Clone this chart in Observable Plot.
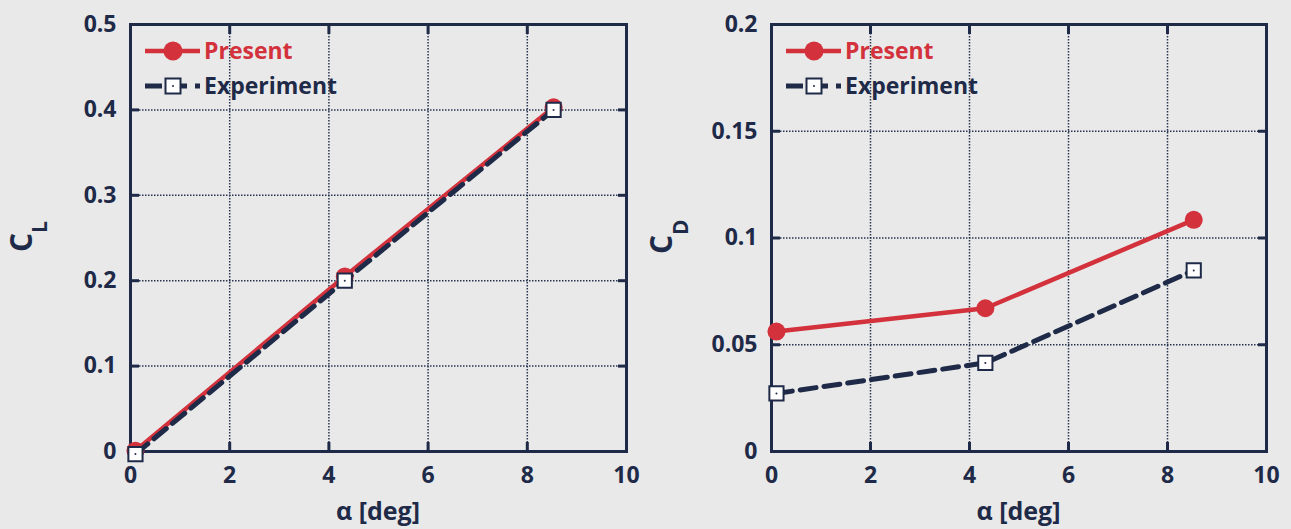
<!DOCTYPE html>
<html>
<head>
<meta charset="utf-8">
<script src="https://cdn.jsdelivr.net/npm/d3@7"></script>
<script src="https://cdn.jsdelivr.net/npm/@observablehq/plot@0.6"></script>
<style>
  html, body { margin: 0; padding: 0; background: #e9e9e9; }
  #wrap { width: 1291px; height: 529px; display: flex; background: #e9e9e9; }
  svg { display: block; }
</style>
</head>
<body>
<div id="wrap"></div>
<script>
// ---- data ----
const alpha = [0.1, 4.32, 8.53];
const clPresent = [0.001, 0.205, 0.403];
const clExperiment = [-0.003, 0.200, 0.400];
const cdPresent = [0.0562, 0.0671, 0.1085];
const cdExperiment = [0.0272, 0.0415, 0.0848];
const xTicks = [0, 2, 4, 6, 8, 10];
const clTicks = [0, 0.1, 0.2, 0.3, 0.4, 0.5];
const cdTicks = [0, 0.05, 0.1, 0.15, 0.2];
const seriesNames = ["Present", "Experiment"];

const NAVY = "#1e2a47";
const RED = "#d3313b";
const FONT = "'Open Sans', 'DejaVu Sans', sans-serif";

function makePanel({width, marginLeft, marginRight, yDomain, yTicks, present, experiment, yMain, ySub, labelX, labelY, subDy}) {
  const P = alpha.map((a, i) => ({a, v: present[i]}));
  const E = alpha.map((a, i) => ({a, v: experiment[i]}));
  const gridX = xTicks.filter(t => t > xTicks[0] && t < xTicks[xTicks.length - 1]);
  const gridY = yTicks.filter(t => t > yTicks[0] && t < yTicks[yTicks.length - 1]);
  const plot = Plot.plot({
    width, height: 529,
    marginLeft, marginRight, marginTop: 24, marginBottom: 78,
    style: {background: "transparent", fontFamily: FONT, fontSize: "23px", fontWeight: "bold", color: NAVY, overflow: "visible"},
    x: {domain: [0, 10], label: null},
    y: {domain: yDomain, label: null},
    marks: [
      Plot.gridX(gridX, {stroke: NAVY, strokeOpacity: 0.95, strokeWidth: 1.5, strokeDasharray: "1.5,1.5"}),
      Plot.gridY(gridY, {stroke: NAVY, strokeOpacity: 0.95, strokeWidth: 1.5, strokeDasharray: "1.5,1.5"}),
      Plot.frame({stroke: NAVY, strokeWidth: 3}),
      Plot.axisX(xTicks, {anchor: "bottom", tickSize: -9, strokeWidth: 3, tickFormat: () => ""}),
      Plot.axisX(xTicks, {anchor: "top", tickSize: -9, strokeWidth: 3, tickFormat: () => ""}),
      Plot.axisY(yTicks, {anchor: "left", tickSize: -9, strokeWidth: 3, tickFormat: () => ""}),
      Plot.axisY(yTicks, {anchor: "right", tickSize: -9, strokeWidth: 3, tickFormat: () => ""}),
      Plot.axisX(xTicks, {anchor: "bottom", tickSize: 0, tickPadding: 15, tickFormat: d => String(d), fill: NAVY}),
      Plot.axisY(yTicks, {anchor: "left", tickSize: 0, tickPadding: 14, tickFormat: d => String(d), fill: NAVY}),
      Plot.line(P, {x: "a", y: "v", stroke: RED, strokeWidth: 4.5}),
      Plot.dot(P, {x: "a", y: "v", r: 9, fill: RED, stroke: "none"}),
      Plot.line(E, {x: "a", y: "v", stroke: NAVY, strokeWidth: 5, strokeDasharray: "16,8"}),
      Plot.dot(E, {x: "a", y: "v", symbol: "square", r: 8, fill: "white", stroke: NAVY, strokeWidth: 2}),
      Plot.dot(E, {x: "a", y: "v", r: 1, fill: NAVY, stroke: "none"})
    ]
  });
  const svg = d3.select(plot);
  // axis title
  svg.append("text")
    .attr("x", (marginLeft + width - marginRight) / 2).attr("y", 520)
    .attr("text-anchor", "middle").attr("fill", NAVY)
    .style("font-size", "25px").style("font-weight", "bold").style("font-family", FONT)
    .text("α [deg]");
  // y label with subscript
  const yl = svg.append("text")
    .attr("transform", `translate(${labelX},${labelY}) rotate(-90)`)
    .attr("text-anchor", "start")
    .attr("fill", NAVY).style("font-family", FONT).style("font-weight", "bold");
  yl.append("tspan").style("font-size", "30px").text(yMain);
  yl.append("tspan").style("font-size", "21px").attr("dy", subDy).text(ySub);
  // legend
  const lx = marginLeft + 15;
  const lg = svg.append("g").attr("text-anchor", "start")
    .style("font-family", FONT).style("font-weight", "bold").style("font-size", "23px");
  lg.append("line").attr("x1", lx).attr("x2", lx + 55).attr("y1", 51).attr("y2", 51)
    .attr("stroke", RED).attr("stroke-width", 4.5);
  lg.append("circle").attr("cx", lx + 28).attr("cy", 51).attr("r", 9.5).attr("fill", RED);
  lg.append("text").attr("x", lx + 59).attr("y", 59).attr("fill", RED).text(seriesNames[0]);
  lg.append("line").attr("x1", lx).attr("x2", lx + 55).attr("y1", 86).attr("y2", 86)
    .attr("stroke", NAVY).attr("stroke-width", 5).attr("stroke-dasharray", "17,8");
  lg.append("rect").attr("x", lx + 20.5).attr("y", 78.5).attr("width", 15).attr("height", 15)
    .attr("fill", "white").attr("stroke", NAVY).attr("stroke-width", 2);
  lg.append("circle").attr("cx", lx + 28).attr("cy", 86).attr("r", 1).attr("fill", NAVY);
  lg.append("text").attr("x", lx + 59).attr("y", 94).attr("fill", NAVY).text(seriesNames[1]);
  return plot;
}

const wrap = document.getElementById("wrap");
wrap.append(makePanel({
  width: 645, marginLeft: 130, marginRight: 19,
  yDomain: [0, 0.5], yTicks: clTicks, present: clPresent, experiment: clExperiment,
  yMain: "C", ySub: "L", labelX: 32, labelY: 252, subDy: 15
}));
wrap.append(makePanel({
  width: 646, marginLeft: 126, marginRight: 25,
  yDomain: [0, 0.2], yTicks: cdTicks, present: cdPresent, experiment: cdExperiment,
  yMain: "C", ySub: "D", labelX: 27, labelY: 254, subDy: 16
}));
</script>
</body>
</html>
